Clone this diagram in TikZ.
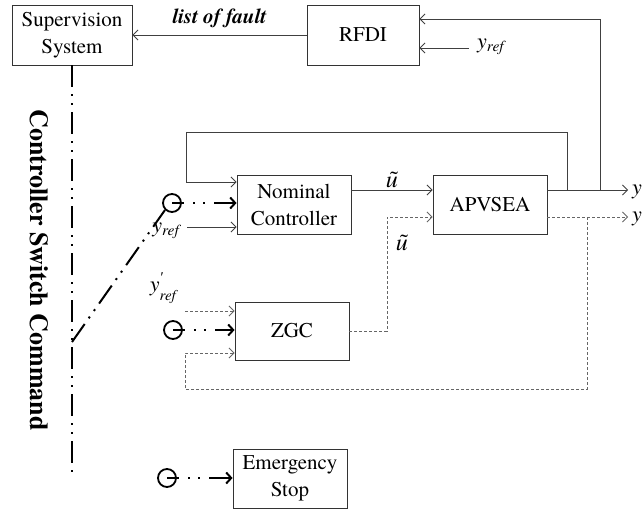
\documentclass[tikz,border=0pt]{standalone}
\usepackage{fontspec}
\setmainfont{texgyretermes}[Extension=.otf, UprightFont=*-regular, BoldFont=*-bold,
    ItalicFont=*-italic, BoldItalicFont=*-bolditalic]
\newfontfamily\libser{Liberation Serif}
\usetikzlibrary{arrows.meta}
\newcommand{\yrf}{\textit{y}\textsubscript{\textit{ref}}}
\newcommand{\yrfp}{\textit{y}\raisebox{-0.42em}{\fontsize{15}{15}\selectfont\shortstack[l]{{\libser\itshape ′}\\[5pt]\textit{ref}}}}
\newcommand{\ut}{\textit{ũ}}
\begin{document}
\begin{tikzpicture}[x=1pt,y=-1pt,
  blk/.style={draw=black!80, line width=0.9pt, align=center, inner sep=0pt,
    font=\fontsize{21}{27}\selectfont},
  lbl/.style={font=\fontsize{22}{26}\selectfont, inner sep=1pt},
  line/.style={draw=black!75, line width=0.8pt},
  arr/.style={line, -{Straight Barb[length=5pt,width=10pt]}},
  darr/.style={arr, draw=black!60, dash pattern=on 3pt off 2pt},
  swarr/.style={draw=black, line width=2pt, -{Straight Barb[length=5pt,width=11pt]},
    dash pattern=on 12pt off 9pt on 2pt off 8pt on 2pt off 9pt on 40pt},
  sw/.style={circle, draw=black, line width=1.8pt, minimum size=18pt, inner sep=0pt},
  ctl/.style={draw=black, line width=2pt,
    dash pattern=on 22pt off 7pt on 2pt off 7pt on 2pt off 7pt}]
\useasboundingbox (0,0) rectangle (644,510);

% blocks
\node[blk, minimum width=120pt, minimum height=60pt] (sup) at (72,35) {Supervision\\System};
\node[blk, minimum width=112pt, minimum height=60pt] (rfdi) at (363,35) {RFDI};
\node[blk, minimum width=114pt, minimum height=59pt] (nom) at (294,204.5) {Nominal\\Controller};
\node[blk, minimum width=114pt, minimum height=59pt] (apv) at (490,204.5) {APVSEA};
\node[blk, minimum width=114pt, minimum height=58pt] (zgc) at (292,331) {ZGC};
\node[blk, minimum width=114pt, minimum height=59pt] (emg) at (290,478.5) {Emergency\\Stop};

% fault list
\draw[arr] (rfdi.west) -- node[above=3pt, font=\fontsize{21}{25}\selectfont\bfseries\itshape] {list of fault} (sup.east);

% RFDI inputs
\coordinate (ytap) at (600,190);
\draw[arr] (ytap) |- ([yshift=16pt]rfdi.east);
\node[lbl, anchor=west] (yr1) at (476,47) {\yrf};
\coordinate (yr1s) at (469,48);
\draw[arr] (yr1s) -- (rfdi.east |- yr1s);

% nominal path
\draw[arr] ([yshift=14.5pt]nom.east) -- node[lbl, above=1pt, font=\fontsize{24}{26}\selectfont] {\ut} ([yshift=14.5pt]apv.west);
\coordinate (t1) at (567,190);
\draw[line] (t1) |- (186,132);
\draw[arr] (186,132) |- ([yshift=22.5pt]nom.west);
\node[lbl] (yr2) at (167,231) {\yrf};
\draw[arr] (187,227) -- ([yshift=-22.5pt]nom.west);

% outputs
\coordinate (yo1) at (628,190);
\coordinate (yo2) at (628,217);
\draw[arr] ([yshift=14.5pt]apv.east) -- (yo1);
\draw[darr] ([yshift=-12.5pt]apv.east) -- (yo2);
\node[lbl, anchor=west] at (631,192) {\textit{y}};
\node[lbl, anchor=west] at (631,219) {\textit{y}};

% ZGC path
\draw[darr] (zgc.east) -- (387,331) -- (387,217) -- ([yshift=-12.5pt]apv.west);
\node[lbl, font=\fontsize{24}{26}\selectfont] at (402,243) {\ut};
\draw[darr] (587,217) -- (587,389) -- (185,389) |- ([yshift=-22pt]zgc.west);
\draw[darr] (185,311) -- ([yshift=20pt]zgc.west);
\node[lbl] (yr3) at (164,288) {\yrfp};

% switches
\node[sw] (s1) at (172,203) {};
\node[sw] (s2) at (173,330) {};
\node[sw] (s3) at (167,478) {};
\draw[swarr] (s1.center) -- (nom.west |- s1.center);
\draw[swarr] (s2.center) -- (zgc.west |- s2.center);
\draw[swarr] (s3.center) -- (emg.west |- s3.center);

% controller switch command
\coordinate (cbot) at (72,477);
\coordinate (sj) at (72,342);
\draw[ctl] (sup.south) -- (cbot);
\draw[ctl] (sj) -- (s1.south west);
\node[rotate=-90, font=\fontsize{26}{28}\selectfont\bfseries] at (39,270) {Controller Switch Command};
\end{tikzpicture}
\end{document}
